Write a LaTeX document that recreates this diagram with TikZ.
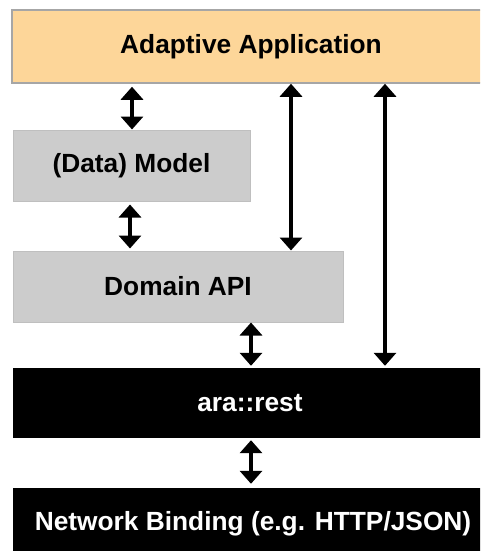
\documentclass[tikz,border=0pt]{standalone}
\usepackage{fontspec}
\setmainfont{Liberation Sans}
\usetikzlibrary{arrows.meta}
\definecolor{appfill}{HTML}{FDD699}
\definecolor{appborder}{HTML}{A6A6A6}
\definecolor{boxgray}{HTML}{CCCCCC}
\definecolor{boxborder}{HTML}{BFBFBF}
\tikzset{
  layer/.style={rectangle, inner sep=0pt, font=\fontsize{26.3}{30}\selectfont\bfseries},
  applayer/.style={layer, fill=appfill, draw=appborder, line width=1.5pt},
  graylayer/.style={layer, fill=boxgray, draw=boxborder, line width=1pt},
  blacklayer/.style={layer, fill=black, text=white},
  dbl/.style={line width=4pt, {Triangle[width=22pt,length=13pt]}-{Triangle[width=22pt,length=13pt]}}
}
\begin{document}
\begin{tikzpicture}[x=1pt,y=-1pt]
\useasboundingbox[fill=white] (0,0) rectangle (480,551);
\clip (0,0) rectangle (480,551);
\node[applayer, minimum width=478pt, minimum height=73pt] (app) at (251,46.5) {Adaptive Application};
\node[graylayer, minimum width=237pt, minimum height=71pt] (model) at (131.5,165.5) {(Data) Model};
\node[graylayer, minimum width=330pt, minimum height=71pt] (domain) at (178,286.5) {Domain API};
\node[blacklayer, minimum width=474pt, minimum height=70pt] (rest) at (250,403) {ara::rest};
\node[blacklayer, minimum width=480pt, minimum height=72pt] (net) at (253,524) {Network Binding (e.g. HTTP/JSON)};
\coordinate (xa) at (132,0);
\coordinate (xb) at (130,0);
\coordinate (xc) at (291,0);
\coordinate (xd) at (385,0);
\coordinate (xe) at (251,0);
\draw[dbl, shorten <=3pt] (app.south -| xa) -- (model.north -| xa);
\draw[dbl, shorten <=3pt, shorten >=2pt] (model.south -| xb) -- (domain.north -| xb);
\draw[dbl] (app.south -| xc) -- (domain.north -| xc);
\draw[dbl, shorten >=2pt] (app.south -| xd) -- (rest.north -| xd);
\draw[dbl, shorten >=2pt] (domain.south -| xe) -- (rest.north -| xe);
\draw[dbl, shorten <=2pt, shorten >=4pt] (rest.south -| xe) -- (net.north -| xe);
\end{tikzpicture}
\end{document}
